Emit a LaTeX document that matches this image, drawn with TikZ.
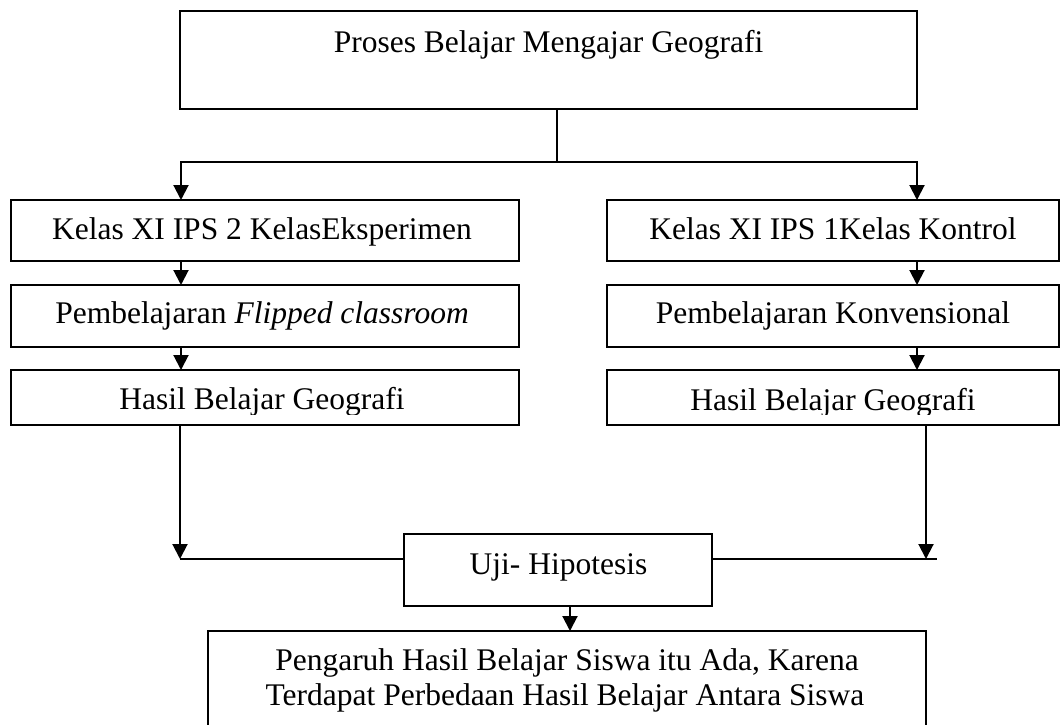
\documentclass[tikz,border=0pt]{standalone}
\usepackage{fontspec}
\setmainfont{Liberation Serif}
\usetikzlibrary{arrows.meta}
\begin{document}
\begin{tikzpicture}[x=1pt,y=-1pt,
  box/.style={draw=black,line width=2pt,rectangle,inner sep=0pt,outer sep=0pt},
  txt/.style={inner sep=0pt,outer sep=0pt,anchor=base,font=\fontsize{31.5}{36}\selectfont},
  conn/.style={draw=black,line width=2pt},
  arr/.style={conn,-{Triangle[length=15pt,width=15pt]}}]
\useasboundingbox (0,0) rectangle (1061,724);
\clip (0,0) rectangle (1061,724);
% boxes
\node[box,minimum width=737pt,minimum height=98pt] (top) at (548.5,60) {};
\node[box,minimum width=508pt,minimum height=61pt] (L1) at (265,230.5) {};
\node[box,minimum width=508pt,minimum height=62pt] (L2) at (265,316) {};
\node[box,minimum width=508pt,minimum height=55pt] (L3) at (265,397.5) {};
\node[box,minimum width=452pt,minimum height=61pt] (R1) at (833,230.5) {};
\node[box,minimum width=452pt,minimum height=62pt] (R2) at (833,316) {};
\node[box,minimum width=452pt,minimum height=55pt] (R3) at (833,397.5) {};
\node[box,minimum width=308pt,minimum height=72pt] (uji) at (558,570) {};
\node[box,minimum width=718pt,minimum height=120pt] (fin) at (567,691) {};
% texts
\node[txt] (tTop) at (548.5,52) {Proses Belajar Mengajar Geografi};
\node[txt] (tL1) at (262,239) {Kelas XI IPS 2 KelasEksperimen};
\node[txt] (tL2) at (262,323) {Pembelajaran \textit{Flipped classroom}};
\node[txt] (tR1) at (833,239) {Kelas XI IPS 1Kelas Kontrol};
\node[txt] (tR2) at (833,323) {Pembelajaran Konvensional};
\begin{scope}
\clip (0,360) rectangle (1061,414);
\node[txt] (tL3) at (262,409) {Hasil Belajar Geografi};
\node[txt] (tR3) at (833,410) {Hasil Belajar Geografi};
\end{scope}
\node[txt] (tUji) at (558.5,574) {Uji- Hipotesis};
\node[txt] (tF1) at (567,670) {Pengaruh Hasil Belajar Siswa itu Ada, Karena};
\node[txt] (tF2) at (565,705) {Terdapat Perbedaan Hasil Belajar Antara Siswa};
% helper coordinates
\coordinate (j) at (557,162);
\coordinate (lx) at (181,0);
\coordinate (rx) at (917,0);
\coordinate (lx2) at (180,559);
\coordinate (rx2) at (926,559);
\coordinate (rend) at (937,559);
\coordinate (ux) at (570,0);
% connectors
\draw[conn] (top.south -| j) -- (j);
\draw[arr] (j) -| (lx |- L1.north);
\draw[arr] (j) -| (rx |- R1.north);
\draw[arr] (lx |- L1.south) -- (lx |- L2.north);
\draw[arr] (lx |- L2.south) -- (lx |- L3.north);
\draw[arr] (rx |- R1.south) -- (rx |- R2.north);
\draw[arr] (rx |- R2.south) -- (rx |- R3.north);
\draw[arr] (lx2 |- L3.south) -- (lx2);
\draw[conn] (lx2) -- (uji.west |- lx2);
\draw[arr] (rx2 |- R3.south) -- (rx2);
\draw[conn] (uji.east |- rend) -- (rend);
\draw[arr] (ux |- uji.south) -- (ux |- fin.north);
\end{tikzpicture}
\end{document}
